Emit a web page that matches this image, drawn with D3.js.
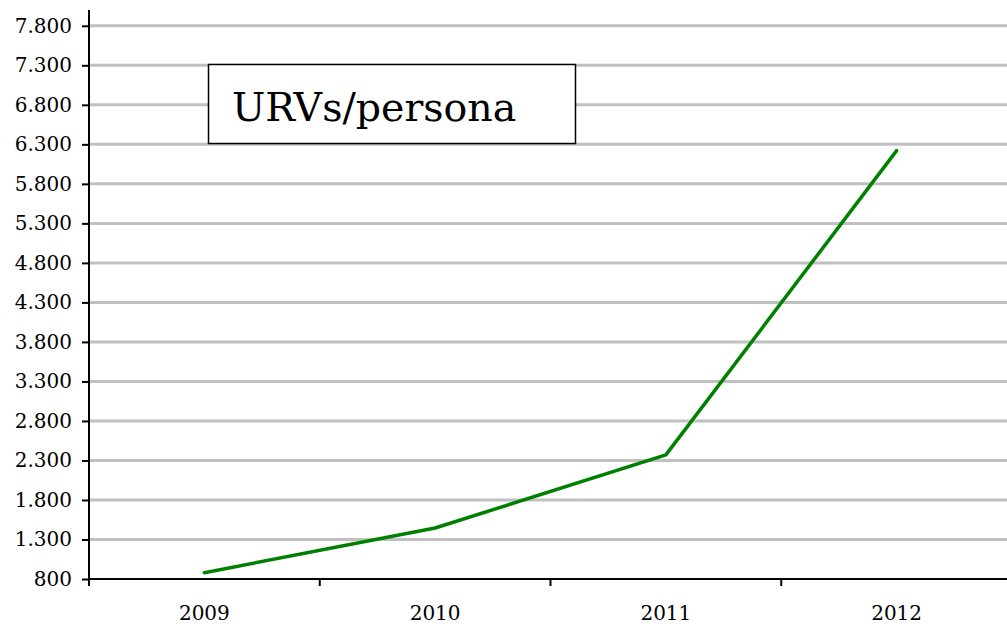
<!DOCTYPE html>
<html>
<head>
<meta charset="utf-8">
<script src="https://cdn.jsdelivr.net/npm/d3@7"></script>
<style>
  html, body { margin: 0; padding: 0; background: #fff; }
  svg { display: block; }
  .tick-label { font-family: "DejaVu Serif", serif; font-size: 20px; fill: #000; }
</style>
</head>
<body>
<div id="chart"></div>
<script>
const years = ['2009', '2010', '2011', '2012'];
const urvs = [880, 1445, 2370, 6220];
const yTicks = [800, 1300, 1800, 2300, 2800, 3300, 3800, 4300, 4800, 5300, 5800, 6300, 6800, 7300, 7800];
const title = 'URVs/persona';

const W = 1007, H = 627;
const m = { left: 89, top: 10, bottom: 579 };
const plotRight = 1012;

const it = d3.formatLocale({ decimal: ',', thousands: '.', grouping: [3], currency: ['', '€'] });
const fmt = it.format(',');

const svg = d3.select('#chart').append('svg')
  .attr('width', W)
  .attr('height', H);

const x = d3.scaleBand()
  .domain(years)
  .range([m.left, plotRight])
  .paddingInner(0)
  .paddingOuter(0);

const y = d3.scaleLinear()
  .domain([800, 8000])
  .range([m.bottom, m.top]);

// grid
const gG = svg.append('g');
yTicks.filter(t => t !== 800).forEach(t => {
  gG.append('line')
    .attr('x1', m.left)
    .attr('x2', W)
    .attr('y1', y(t))
    .attr('y2', y(t))
    .attr('stroke', '#c0c0c0')
    .attr('stroke-width', 3);
});

// y axis
const gY = svg.append('g')
  .attr('transform', `translate(${m.left},0)`)
  .call(d3.axisLeft(y).tickValues(yTicks).tickFormat(fmt).tickSize(7).tickPadding(10));
gY.select('.domain').attr('stroke', '#000').attr('stroke-width', 2)
  .attr('d', `M0,${y(8000)}V${m.bottom + 7}`);
gY.selectAll('.tick line').attr('stroke', '#000').attr('stroke-width', 2);
gY.selectAll('.tick text').attr('class', 'tick-label');

// x axis
const gX = svg.append('g')
  .attr('transform', `translate(0,${m.bottom})`)
  .call(d3.axisBottom(x).tickSize(0).tickPadding(27));
gX.select('.domain').remove();
gX.selectAll('.tick text').attr('class', 'tick-label');
gX.append('line')
  .attr('x1', m.left)
  .attr('x2', plotRight)
  .attr('stroke', '#000')
  .attr('stroke-width', 2);
years.forEach(c => {
  gX.append('line')
    .attr('x1', x(c))
    .attr('x2', x(c))
    .attr('y1', 0)
    .attr('y2', 7)
    .attr('stroke', '#000')
    .attr('stroke-width', 2);
});

// series line
const line = d3.line()
  .x((d, i) => x(years[i]) + x.bandwidth() / 2)
  .y(d => y(d));
svg.append('path')
  .datum(urvs)
  .attr('d', line)
  .attr('fill', 'none')
  .attr('stroke', '#008000')
  .attr('stroke-width', 3.5)
  .attr('stroke-linecap', 'round')
  .attr('stroke-linejoin', 'round');

// title box
svg.append('rect')
  .attr('x', 208.5)
  .attr('y', 64.5)
  .attr('width', 367)
  .attr('height', 79)
  .attr('fill', '#fff')
  .attr('stroke', '#000')
  .attr('stroke-width', 1.5);
svg.append('text')
  .attr('x', 232)
  .attr('y', 121)
  .attr('font-family', '"DejaVu Serif", serif')
  .attr('font-size', 39.5)
  .text(title);
</script>
</body>
</html>
